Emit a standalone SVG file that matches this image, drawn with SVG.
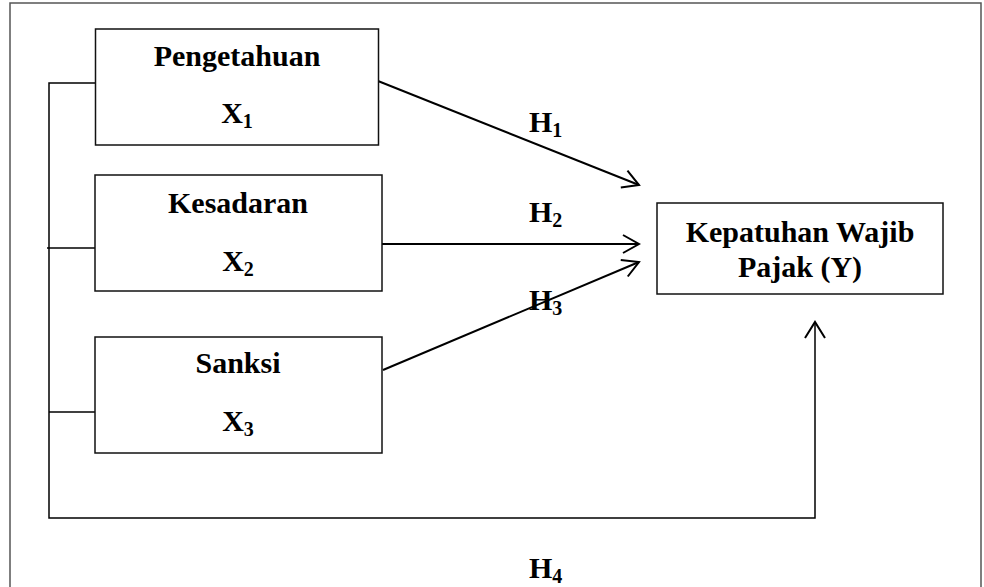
<svg xmlns="http://www.w3.org/2000/svg" width="984" height="587" viewBox="0 0 984 587">
<defs>
<style>
.t{font-family:"Liberation Serif","Times New Roman",serif;font-weight:bold;font-size:30px;fill:#000;text-anchor:middle}
.h{font-family:"Liberation Serif","Times New Roman",serif;font-weight:bold;font-size:30px;fill:#000}
.s{font-size:20px}
.box{fill:#fff;stroke:#111;stroke-width:1.5}
.bus{fill:none;stroke:#000;stroke-width:1.5}
.arr{fill:none;stroke:#000;stroke-width:2;marker-end:url(#open)}
</style>
<marker id="open" viewBox="-20 -12 22 24" refX="0" refY="0" markerWidth="22" markerHeight="24" markerUnits="userSpaceOnUse" orient="auto">
<path d="M-16,-9 L0,0 L-16,9" fill="none" stroke="#000" stroke-width="2"/>
</marker>
</defs>
<rect width="984" height="587" fill="#fff"/>
<path d="M10,600 V3 H981 V600" fill="none" stroke="#555" stroke-width="1.5"/>
<g id="connectors">
<path class="bus" d="M95,83 H49 V518 H815 V324"/>
<path class="bus" d="M47,248 H95"/>
<path class="bus" d="M49,412 H95"/>
<path d="M815,324 M805,338 L815,322 L825,338" fill="none" stroke="#000" stroke-width="2"/>
<line class="arr" x1="378" y1="81" x2="639" y2="185"/>
<line class="arr" x1="382" y1="244" x2="639" y2="244"/>
<line class="arr" x1="383" y1="370" x2="639" y2="262"/>
<text class="h" x="529" y="132">H<tspan class="s" dy="5">1</tspan></text>
<text class="h" x="529" y="222">H<tspan class="s" dy="5">2</tspan></text>
<text class="h" x="529" y="310">H<tspan class="s" dy="5">3</tspan></text>
<text class="h" x="529" y="578">H<tspan class="s" dy="5">4</tspan></text>
</g>
<g id="x1">
<rect class="box" x="95.5" y="29" width="283" height="116"/>
<text class="t" x="237" y="66">Pengetahuan</text>
<text class="t" x="237" y="123">X<tspan class="s" dy="5">1</tspan></text>
</g>
<g id="x2">
<rect class="box" x="95" y="175" width="287" height="116"/>
<text class="t" x="238" y="213">Kesadaran</text>
<text class="t" x="238" y="271">X<tspan class="s" dy="5">2</tspan></text>
</g>
<g id="x3">
<rect class="box" x="95" y="337" width="287" height="116"/>
<text class="t" x="238" y="373">Sanksi</text>
<text class="t" x="238" y="431">X<tspan class="s" dy="5">3</tspan></text>
</g>
<g id="y">
<rect class="box" x="657" y="203" width="286" height="91"/>
<text class="t" x="800" y="242">Kepatuhan Wajib</text>
<text class="t" x="800" y="277">Pajak (Y)</text>
</g>
</svg>
